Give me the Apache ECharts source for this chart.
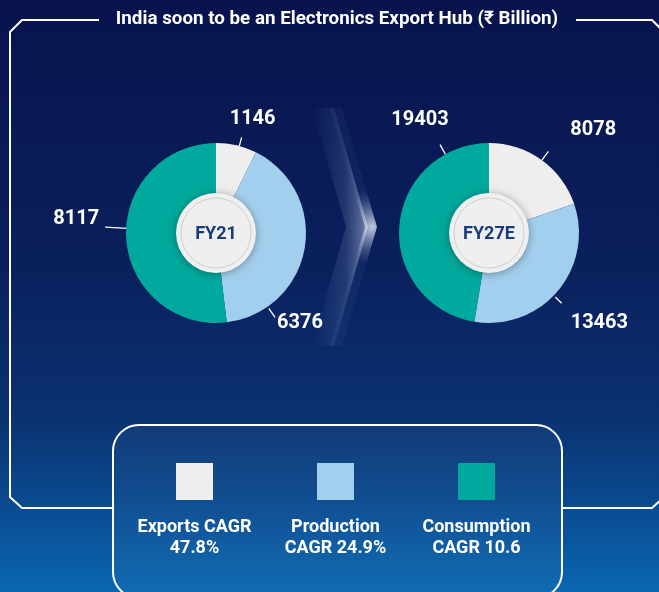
<!DOCTYPE html>
<html>
<head>
<meta charset="utf-8">
<script src="https://cdn.jsdelivr.net/npm/echarts@6/dist/echarts.min.js"></script>
<style>
  html, body { margin: 0; padding: 0; background: #08134d; }
  #chart { width: 659px; height: 592px; }
</style>
</head>
<body>
<div id="chart"></div>
<script>
// Electronics in India, ₹ Billion
const titleText = 'India soon to be an Electronics Export Hub (₹ Billion)';
const years = ['FY21', 'FY27E'];
const segments = ['Exports', 'Production', 'Consumption'];
const exportsVals = [1146, 8078];
const productionVals = [6376, 13463];
const consumptionVals = [8117, 19403];
const cagrLabels = ['Exports CAGR\n47.8%', 'Production\nCAGR 24.9%', 'Consumption\nCAGR 10.6'];

const segColors = ['#eeeeee', '#a3cfee', '#00a99d'];
const FONT = 'Roboto, "Noto Sans", sans-serif';

// donut geometry
const centers = [[216, 233], [489, 233]];
const outerR = 90;
const discR = 40;

// callout placement per slice: angle from 12 o'clock (clockwise), line radii, text offset, alignment
const callouts = [
  [
    { a: 15, r0: 90, r1: 99, dx: 11, dy: -18, align: 'center' },
    { a: 145, r0: 92, r1: 103, dx: 2, dy: 6, align: 'left' },
    { a: 273, r0: 88, r1: 111, dx: -6, dy: -8, align: 'right' }
  ],
  [
    { a: 36, r0: 90, r1: 101, dx: 22, dy: -21, align: 'left' },
    { a: 134, r0: 92, r1: 101, dx: 9, dy: 20, align: 'left' },
    { a: 331, r0: 90, r1: 101, dx: -20, dy: -25, align: 'center' }
  ]
];

function polar(c, r, deg) {
  const t = deg * Math.PI / 180;
  return [c[0] + r * Math.sin(t), c[1] - r * Math.cos(t)];
}

const chart = echarts.init(document.getElementById('chart'), null, { renderer: 'canvas' });

const series = years.map((yr, i) => ({
  type: 'pie',
  name: yr,
  center: centers[i],
  radius: [0, outerR],
  startAngle: 90,
  clockwise: true,
  silent: true,
  animation: false,
  z: 3,
  itemStyle: { borderWidth: 0 },
  label: {
    show: true,
    position: 'outside',
    formatter: '{c}',
    color: '#ffffff',
    fontFamily: FONT,
    fontWeight: 'bold',
    fontSize: 20
  },
  labelLine: {
    show: true,
    length: 10,
    length2: 0,
    smooth: false,
    lineStyle: { color: '#ffffff', width: 1.3 }
  },
  labelLayout: function (p) {
    const s = callouts[i][p.dataIndex];
    const c = centers[i];
    const p0 = polar(c, s.r0, s.a);
    const p1 = polar(c, s.r1, s.a);
    return {
      x: p1[0] + s.dx,
      y: p1[1] + s.dy,
      align: s.align,
      verticalAlign: 'middle',
      labelLinePoints: [p0, p1]
    };
  },
  data: segments.map((name, k) => ({
    name: name,
    value: [exportsVals, productionVals, consumptionVals][k][i],
    itemStyle: { color: segColors[k] }
  }))
}));

const graphics = [];

// page background
graphics.push({
  type: 'rect', z: -10, silent: true,
  shape: { x: 0, y: 0, width: 659, height: 592 },
  style: {
    fill: new echarts.graphic.LinearGradient(0, 0, 0, 1, [
      { offset: 0, color: '#08134d' },
      { offset: 0.45, color: '#0a205d' },
      { offset: 0.7, color: '#0b3170' },
      { offset: 0.85, color: '#0a4a8f' },
      { offset: 1, color: '#0a67b1' }
    ])
  }
});

// chevron between the two years: soft glow band plus a brighter edge
graphics.push({
  type: 'polygon', z: -5, silent: true,
  shape: { points: [[312, 108], [334, 108], [368, 227], [334, 346], [312, 346], [346, 227]] },
  style: {
    fill: new echarts.graphic.LinearGradient(0, 0, 1, 0, [
      { offset: 0, color: 'rgba(120,150,210,0.0)' },
      { offset: 0.6, color: 'rgba(170,190,225,0.16)' },
      { offset: 1, color: 'rgba(215,225,245,0.5)' }
    ])
  }
});
graphics.push({
  type: 'polygon', z: -4, silent: true,
  shape: { points: [[330, 108], [342, 108], [377, 227], [342, 346], [330, 346], [365, 227]] },
  style: {
    fill: new echarts.graphic.RadialGradient(0.9, 0.5, 0.8, [
      { offset: 0, color: 'rgba(235,240,252,0.8)' },
      { offset: 0.6, color: 'rgba(190,205,235,0.3)' },
      { offset: 1, color: 'rgba(140,165,215,0.06)' }
    ])
  }
});

// frame around the chart
const frameStyle = { stroke: '#ffffff', lineWidth: 2, fill: null };
graphics.push({
  type: 'polyline', z: 1, silent: true,
  shape: { points: [[99, 20], [22, 20], [10, 32], [10, 497], [22, 508], [113, 508]] },
  style: frameStyle
});
graphics.push({
  type: 'polyline', z: 1, silent: true,
  shape: { points: [[576, 20], [652, 20], [664, 32], [664, 497], [652, 508], [562, 508]] },
  style: frameStyle
});

// title
graphics.push({
  type: 'text', z: 5, silent: true,
  x: 337, y: 19,
  style: {
    text: titleText, fill: '#ffffff', font: 'bold 18.8px ' + FONT,
    align: 'center', verticalAlign: 'middle'
  }
});

// centre discs with year labels
years.forEach((yr, i) => {
  const c = centers[i];
  graphics.push({
    type: 'circle', z: 10, silent: true,
    shape: { cx: c[0], cy: c[1], r: discR },
    style: { fill: '#efefef', shadowBlur: 8, shadowColor: 'rgba(0,0,0,0.35)', shadowOffsetY: 1 }
  });
  graphics.push({
    type: 'circle', z: 11, silent: true,
    shape: { cx: c[0], cy: c[1], r: discR - 5 },
    style: { fill: null, stroke: '#cfcfcf', lineWidth: 1 }
  });
  graphics.push({
    type: 'text', z: 12, silent: true,
    x: c[0], y: c[1] + 1,
    style: {
      text: yr, fill: '#173c7c', font: 'bold 18px ' + FONT,
      align: 'center', verticalAlign: 'middle'
    }
  });
});

// legend panel
graphics.push({
  type: 'rect', z: 2, silent: true,
  shape: { x: 113, y: 425, width: 449, height: 173, r: 26 },
  style: { fill: 'rgba(255,255,255,0.03)', stroke: '#ffffff', lineWidth: 2 }
});
const legendX = [194.5, 335.5, 476.5];
segments.forEach((s, k) => {
  graphics.push({
    type: 'rect', z: 3, silent: true,
    shape: { x: legendX[k] - 18.5, y: 463, width: 37, height: 37 },
    style: { fill: segColors[k] }
  });
  graphics.push({
    type: 'text', z: 3, silent: true,
    x: legendX[k], y: 538,
    style: {
      text: cagrLabels[k], fill: '#ffffff', font: 'bold 18px ' + FONT,
      lineHeight: 21, align: 'center', verticalAlign: 'middle'
    }
  });
});

chart.setOption({
  animation: false,
  backgroundColor: 'transparent',
  graphic: { elements: graphics },
  series: series
});
</script>
</body>
</html>
